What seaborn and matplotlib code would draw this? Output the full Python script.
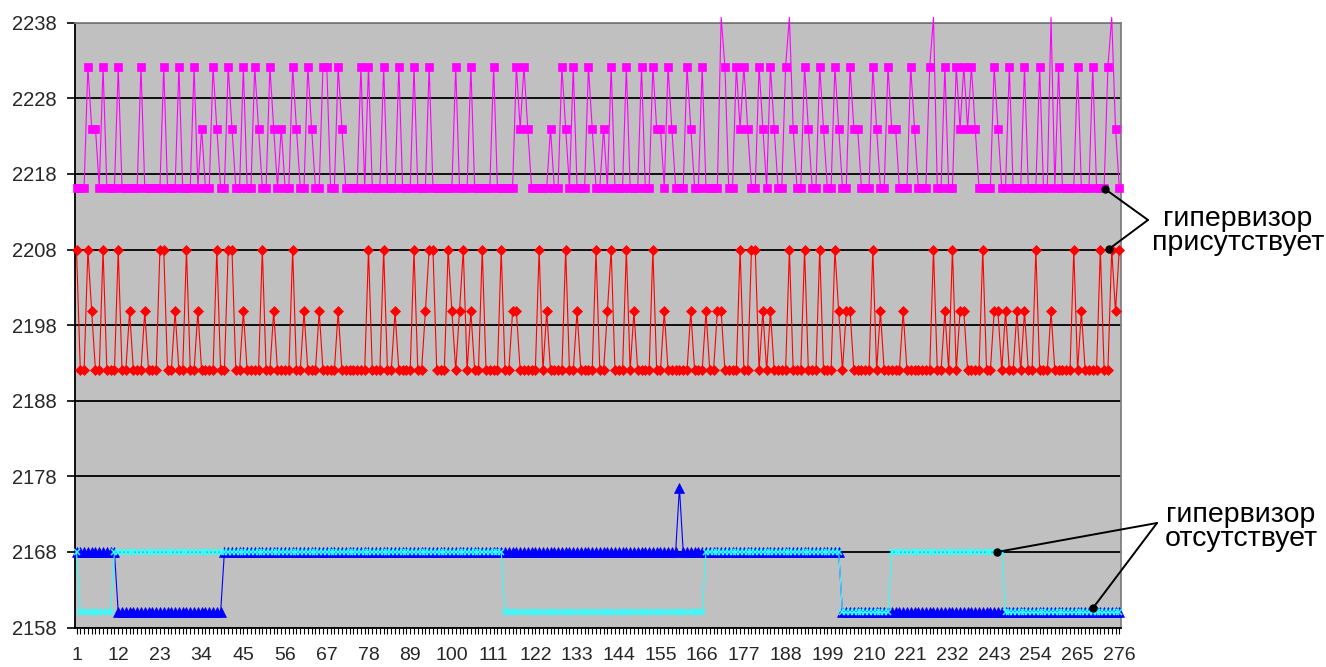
import numpy as np
import pandas as pd
import matplotlib
matplotlib.use("Agg")
import matplotlib.pyplot as plt
from matplotlib.lines import Line2D
import seaborn as sns

points = np.arange(1, 277)

magenta_levels = {'l': 2216.2, 'm': 2224.0, 'h': 2232.2, 'p': 2238.7}
magenta_codes = [
    "lllhmmlhlll", "hlllllhllll", "lhlllhlllhl", "mllhmllhmll", "hllhmllhmlm",
    "llhmllhmllh", "hllhmllllhl", "hlllhlllhll", "lhlllhlllll", "lhlllhlllll",
    "hlllllhmhml", "llllmllhmlh", "lllhmllmlhl", "llhlllhllhm", "mlhmlllhmll",
    "hllllphllhm", "hmllhmlhmll", "hpmllhmllhm", "llhmllhmmll", "lhmllhmmlll",
    "hmlllhpllhl", "lhmhmhmllll", "hmllhlllhll", "lhllplhllll", "hlllhlllhpm",
    "l",
]

red_levels = {'l': 2192.0, 'm': 2199.8, 'h': 2208.0}
red_codes = [
    "hllhmllhlll", "hllmlllmlll", "hhllmllhllm", "llllhllhhll", "mllllhllmll",
    "llhllmlllml", "lllmlllllll", "hlllhllmlll", "lhllmhhlllh", "mlmhlmllhll",
    "llhllmmllll", "lhlmllllhll", "mllllhllmhl", "llhlmllllhl", "lmllllllmll",
    "lmllmmllllh", "llhhlmlmlll", "lhlllhlllhl", "llhmlmmllll", "lhlmlllllml",
    "llllllhllml", "hlmmllllhll", "mmlmllmlmll", "hlllmlllllh", "lmllllhllhm",
    "h",
]

blue_levels = {'l': 2160.0, 'h': 2168.0, 'p': 2176.5}
blue_codes = [
    "hhhhhhhhhhh", "lllllllllll", "lllllllllll", "llllllhhhhh", "hhhhhhhhhhh",
    "hhhhhhhhhhh", "hhhhhhhhhhh", "hhhhhhhhhhh", "hhhhhhhhhhh", "hhhhhhhhhhh",
    "hhhhhhhhhhh", "hhhhhhhhhhh", "hhhhhhhhhhh", "hhhhhhhhhhh", "hhhhhphhhhh",
    "hhhhhhhhhhh", "hhhhhhhhhhh", "hhhhhhhhhhh", "hhhhlllllll", "lllllllllll",
    "lllllllllll", "lllllllllll", "lllllllllll", "lllllllllll", "lllllllllll",
    "l",
]

cyan_levels = {'l': 2160.0, 'h': 2168.0}
cyan_codes = [
    "hlllllllllh", "hhhhhhhhhhh", "hhhhhhhhhhh", "hhhhhhhhhhh", "hhhhhhhhhhh",
    "hhhhhhhhhhh", "hhhhhhhhhhh", "hhhhhhhhhhh", "hhhhhhhhhhh", "hhhhhhhhhhh",
    "hhhllllllll", "lllllllllll", "lllllllllll", "lllllllllll", "lllllllllll",
    "lhhhhhhhhhh", "hhhhhhhhhhh", "hhhhhhhhhhh", "hhhhlllllll", "llllllhhhhh",
    "hhhhhhhhhhh", "hhhhhhhhhhh", "hhhllllllll", "lllllllllll", "lllllllllll",
    "l",
]

y_ticks = [2158, 2168, 2178, 2188, 2198, 2208, 2218, 2228, 2238]
x_tick_labels = list(range(1, 277, 11))

label_present = "гипервизор\nприсутствует"
label_absent = "гипервизор\nотсутствует"


def decode(chunks, levels):
    s = "".join(chunks)
    assert len(s) == len(points)
    return np.array([levels[c] for c in s])


sns.set_style("white")
plt.rcParams['font.family'] = ['Liberation Sans', 'DejaVu Sans']

W, H = 1326, 667
fig = plt.figure(figsize=(W / 100, H / 100), dpi=100)


def px(x, y):
    # image pixel -> figure fraction
    return x / W, 1 - y / H


ax = fig.add_axes([75 / W, 1 - 627.5 / H, 1046 / W, 604.8 / H])
ax.set_facecolor('#C0C0C0')

# blue triangles underneath, thin cyan crosses over them -> mixed band where both sit
series = [
    ("magenta", magenta_codes, magenta_levels, '#FF00FF', 's', 6.0, 0.5, 3),
    ("red", red_codes, red_levels, '#FF0000', 'D', 4.8, 0.5, 3),
    ("blue", blue_codes, blue_levels, '#0000FF', '^', 6.5, 0.5, 3),
    ("cyan", cyan_codes, cyan_levels, '#33FFFF', 'x', 5.0, 1.1, 4),
]

for name, codes, levels, color, mk, ms, mew, z in series:
    df = pd.DataFrame({'x': points, 'y': decode(codes, levels)})
    visible = [i for i, v in enumerate(df['y']) if v <= 2238]
    sns.lineplot(data=df, x='x', y='y', ax=ax, estimator=None, legend=False,
                 color=color, lw=0.8, marker=mk, ms=ms, mec=color,
                 mew=mew, mfc=color, markevery=visible,
                 clip_on=False, zorder=z)

ax.set_xlim(0.6, 276.45)
ax.set_ylim(2158, 2238)
ax.set_yticks(y_ticks)
ax.set_xticks(x_tick_labels)
ax.set_xticks(points, minor=True)
ax.set_xlabel("")
ax.set_ylabel("")
ax.yaxis.grid(True, color='black', lw=1.3, zorder=1)
ax.set_axisbelow(True)

ax.tick_params(axis='y', which='major', left=True, direction='out', length=6,
               width=1.2, color='black', pad=7, labelsize=14.5)
ax.tick_params(axis='x', which='both', bottom=True, direction='out', length=4,
               width=0.8, color='black', pad=10, labelsize=14)
for side in ['left', 'bottom']:
    ax.spines[side].set_color('black')
    ax.spines[side].set_linewidth(1.3)
for side in ['top', 'right']:
    ax.spines[side].set_color('#808080')
    ax.spines[side].set_linewidth(1.3)

# annotation callouts (drawn in figure pixel space like the original)
callouts = [
    ((1148, 220), [(1105, 189), (1109, 249)], label_present, (1238, 231)),
    ((1157, 523), [(997, 552), (1093, 608)], label_absent, (1241, 527)),
]
for vertex, dots, text, tpos in callouts:
    for d in dots:
        (x0, y0), (x1, y1) = px(*vertex), px(*d)
        fig.add_artist(Line2D([x0, x1], [y0, y1], color='black', lw=1.4,
                              transform=fig.transFigure, zorder=10))
        fig.add_artist(Line2D([x1], [y1], marker='o', ms=5, color='black',
                              transform=fig.transFigure, zorder=11))
    tx, ty = px(*tpos)
    fig.text(tx, ty, text, ha='center', va='center', fontsize=20.5,
             linespacing=0.95, color='black')

fig.savefig("out.png", dpi=100)
